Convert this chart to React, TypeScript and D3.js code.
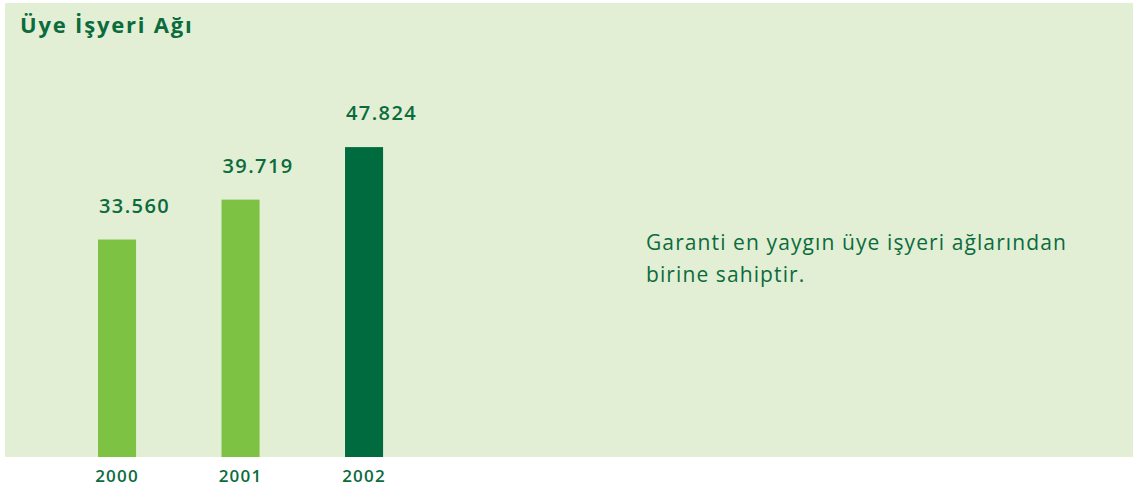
import React, { useEffect, useRef } from 'react';
import * as d3 from 'd3';

const years = ['2000', '2001', '2002'];
const values = [33560, 39719, 47824];
const valueLabels = ['33.560', '39.719', '47.824'];
const title = 'Üye İşyeri Ağı';
const noteLines = ['Garanti en yaygın üye işyeri ağlarından', 'birine sahiptir.'];

const W = 1133;
const H = 486;
const FONT = '"Open Sans", "Noto Sans", sans-serif';
const TEXT_GREEN = '#0b6b3d';
const LIGHT_BAR = '#7dc242';
const DARK_BAR = '#006b3f';

const App = () => {
  const svgRef = useRef<SVGSVGElement>(null);

  useEffect(() => {
    const svg = d3.select(svgRef.current);
    svg.selectAll('*').remove();

    const panel = { left: 5, top: 3, right: W, bottom: 457 };

    // background panel
    svg.append('rect')
      .attr('x', panel.left)
      .attr('y', panel.top)
      .attr('width', panel.right - panel.left)
      .attr('height', panel.bottom - panel.top)
      .style('fill', '#e2efd5');

    // title
    svg.append('text')
      .attr('x', 20)
      .attr('y', 33)
      .style('font-family', FONT)
      .style('font-size', '22px')
      .style('font-weight', 700)
      .style('letter-spacing', '1.8px')
      .style('fill', TEXT_GREEN)
      .text(title);

    const x = d3.scaleBand()
      .domain(years)
      .range([55.3, 425.8])
      .paddingInner(0.692)
      .paddingOuter(0.346);

    const y = d3.scaleLinear()
      .domain([0, 50000])
      .range([panel.bottom, panel.bottom - 324]);

    const g = svg.append('g');

    // bars
    g.selectAll('.bar')
      .data(values)
      .enter()
      .append('rect')
      .attr('class', 'bar')
      .attr('x', (d, i) => x(years[i]) as number)
      .attr('y', d => y(d))
      .attr('width', x.bandwidth())
      .attr('height', d => y(0) - y(d))
      .style('fill', (d, i) => (i === years.length - 1 ? DARK_BAR : LIGHT_BAR));

    // value labels
    g.selectAll('.value')
      .data(values)
      .enter()
      .append('text')
      .attr('class', 'value')
      .attr('x', (d, i) => (x(years[i]) as number) + 1)
      .attr('y', d => y(d) - 27)
      .style('font-family', FONT)
      .style('font-size', '20px')
      .style('font-weight', 600)
      .style('letter-spacing', '1.4px')
      .style('fill', TEXT_GREEN)
      .text((d, i) => valueLabels[i]);

    // year labels
    g.selectAll('.year')
      .data(years)
      .enter()
      .append('text')
      .attr('class', 'year')
      .attr('x', d => (x(d) as number) + x.bandwidth() / 2)
      .attr('y', 482)
      .attr('text-anchor', 'middle')
      .style('font-family', FONT)
      .style('font-size', '17px')
      .style('font-weight', 600)
      .style('letter-spacing', '1.2px')
      .style('fill', TEXT_GREEN)
      .text(d => d);

    // side note
    svg.append('g')
      .selectAll('text')
      .data(noteLines)
      .enter()
      .append('text')
      .attr('x', 646)
      .attr('y', (d, i) => 250 + i * 32)
      .style('font-family', FONT)
      .style('font-size', '21px')
      .style('font-weight', 400)
      .style('letter-spacing', '1.1px')
      .style('fill', TEXT_GREEN)
      .text(d => d);
  }, []);

  return (
    <div style={{ position: 'absolute', left: 0, top: 0, width: W, height: H, background: 'white' }}>
      <svg ref={svgRef} width={W} height={H}></svg>
    </div>
  );
};

export default App;
